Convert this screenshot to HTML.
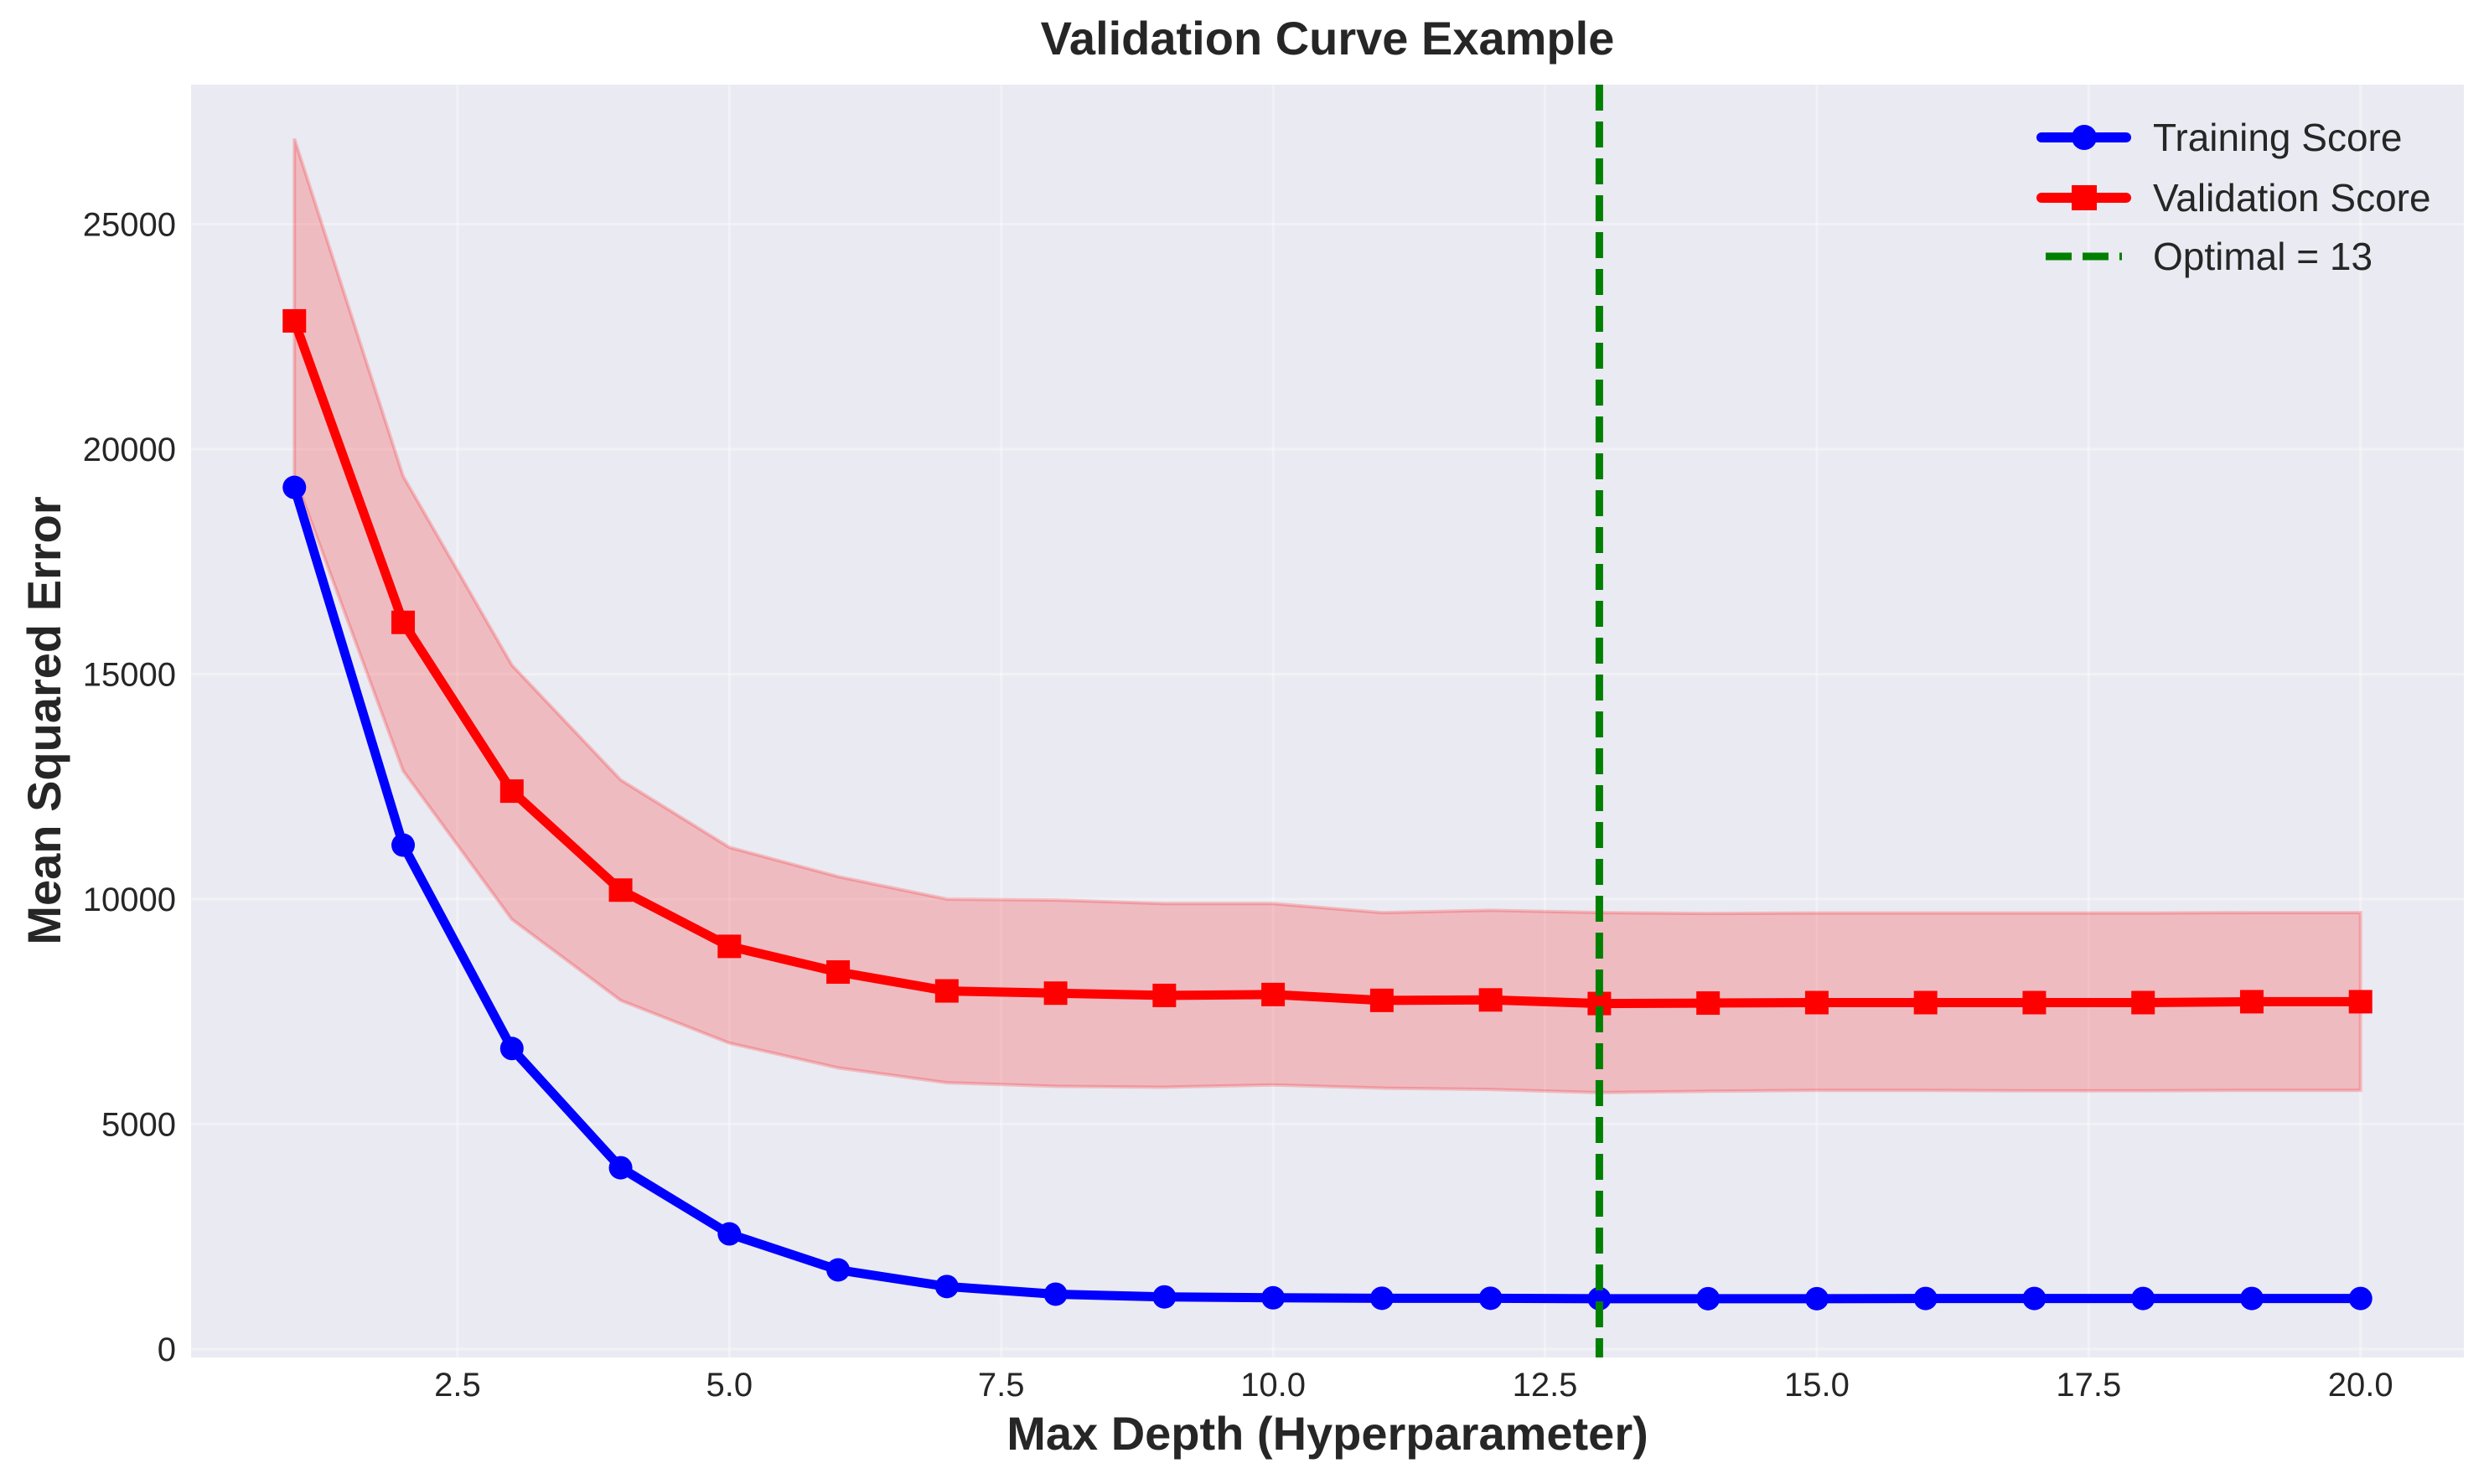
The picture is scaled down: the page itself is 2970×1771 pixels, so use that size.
<!DOCTYPE html>
<html><head><meta charset="utf-8">
<style>
html,body{margin:0;padding:0;background:#fff;}
svg{display:block;font-family:"Liberation Sans",Arial,sans-serif;}
</style></head>
<body>
<svg id="chart" width="2970" height="1771" viewBox="0 0 2970 1771" xmlns="http://www.w3.org/2000/svg">
<rect width="2970" height="1771" fill="#fff"/>
<rect x="228" y="101" width="2712" height="1519" fill="#eaeaf2"/>
<g id="grid"></g>
<g id="bands"></g>
<g id="series"></g>
<g id="ticks"></g>
<text x="1584" y="65" text-anchor="middle" font-size="56" font-weight="bold" fill="#262626">Validation Curve Example</text>
<text x="1584" y="1730" text-anchor="middle" font-size="56" font-weight="bold" fill="#262626">Max Depth (Hyperparameter)</text>
<text transform="translate(72,860) rotate(-90)" text-anchor="middle" font-size="56" font-weight="bold" fill="#262626">Mean Squared Error</text>
<g>
  <g>
    <line x1="2436" y1="164" x2="2537" y2="164" stroke="#0000ff" stroke-width="12" stroke-linecap="round"/>
    <circle cx="2487" cy="164" r="15" fill="#0000ff"/>
    <text x="2569" y="180" font-size="46" fill="#262626">Training Score</text>
  </g>
  <g>
    <line x1="2436" y1="236" x2="2537" y2="236" stroke="#ff0000" stroke-width="12" stroke-linecap="round"/>
    <rect x="2472" y="221" width="30" height="30" fill="#ff0000"/>
    <text x="2569" y="252" font-size="46" fill="#262626">Validation Score</text>
  </g>
  <g>
    <line x1="2441" y1="306" x2="2532" y2="306" stroke="#008000" stroke-width="9" stroke-dasharray="31,13"/>
    <text x="2569" y="322" font-size="46" fill="#262626">Optimal = 13</text>
  </g>
</g>
</svg>
<script>
const depths = [1,2,3,4,5,6,7,8,9,10,11,12,13,14,15,16,17,18,19,20];
const trainMean = [19150,11200,6680,4030,2560,1760,1390,1220,1160,1140,1130,1130,1120,1120,1120,1125,1125,1125,1125,1125];
const trainStd = [150,120,100,90,70,50,40,30,25,20,20,20,20,20,20,20,20,20,20,20];
const valMean = [22850,16150,12400,10200,8950,8380,7960,7910,7860,7880,7750,7760,7680,7690,7700,7700,7700,7700,7720,7720];
const valUpper = [26900,19400,15200,12650,11150,10500,10000,9980,9900,9900,9700,9750,9700,9680,9690,9690,9690,9690,9700,9700];
const valLower = [19400,12850,9550,7750,6800,6250,5920,5840,5820,5870,5800,5770,5700,5730,5750,5750,5740,5740,5750,5750];
const optimalDepth = 13;
const xTicks = [2.5,5.0,7.5,10.0,12.5,15.0,17.5,20.0];
const yTicks = [0,5000,10000,15000,20000,25000];

const NS = "http://www.w3.org/2000/svg";
const X0=228, X1=2940, Y0=1620, Y1=101;
const xMin=0.05, xMax=20.95, yMin=-186, yMax=28100;
function xs(v){return X0+(v-xMin)/(xMax-xMin)*(X1-X0);}
function ys(v){return Y0-(v-yMin)/(yMax-yMin)*(Y0-Y1);}
function mk(tag,attrs,parent){const e=document.createElementNS(NS,tag);for(const k in attrs)e.setAttribute(k,attrs[k]);parent.appendChild(e);return e;}

const grid=document.getElementById('grid');
const ticks=document.getElementById('ticks');
xTicks.forEach(t=>{
  const l=mk('line',{x1:xs(t),x2:xs(t),y1:Y1,y2:Y0,stroke:'#ffffff','stroke-width':3,'stroke-opacity':0.35},grid);
  
  
  const tx=mk('text',{x:xs(t),y:1666,'text-anchor':'middle','font-size':40,fill:'#262626'},ticks);
  tx.textContent=t.toFixed(1);
  
  
});
yTicks.forEach(t=>{
  const l=mk('line',{x1:X0,x2:X1,y1:ys(t),y2:ys(t),stroke:'#ffffff','stroke-width':3,'stroke-opacity':0.35},grid);
  
  
  const tx=mk('text',{x:210,y:ys(t)+14,'text-anchor':'end','font-size':40,fill:'#262626'},ticks);
  tx.textContent=String(t);
  
  
});

const bands=document.getElementById('bands');
function band(up,lo,color,name){
  let pts=depths.map((d,i)=>xs(d)+','+ys(up[i]));
  pts=pts.concat(depths.slice().reverse().map((d,j)=>{const i=depths.length-1-j;return xs(d)+','+ys(lo[i]);}));
  const p=mk('polygon',{points:pts.join(' '),fill:color,'fill-opacity':0.2,stroke:color,'stroke-opacity':0.2,'stroke-width':4},bands);
  
  
}
band(valUpper,valLower,'#ff0000','validation-std-band');
band(trainMean.map((m,i)=>m+trainStd[i]),trainMean.map((m,i)=>m-trainStd[i]),'#0000ff','training-std-band');

const series=document.getElementById('series');
const vl=mk('polyline',{points:depths.map((d,i)=>xs(d)+','+ys(valMean[i])).join(' '),fill:'none',stroke:'#ff0000','stroke-width':11,'stroke-linejoin':'round'},series);


depths.forEach((d,i)=>{
  const r=mk('rect',{x:xs(d)-14,y:ys(valMean[i])-14,width:28,height:28,fill:'#ff0000'},series);
  
  
});
const tl=mk('polyline',{points:depths.map((d,i)=>xs(d)+','+ys(trainMean[i])).join(' '),fill:'none',stroke:'#0000ff','stroke-width':11,'stroke-linejoin':'round'},series);


depths.forEach((d,i)=>{
  const c=mk('circle',{cx:xs(d),cy:ys(trainMean[i]),r:14,fill:'#0000ff'},series);
  
  
});
const ol=mk('line',{x1:xs(optimalDepth),x2:xs(optimalDepth),y1:Y1,y2:Y0,stroke:'#008000','stroke-width':9,'stroke-dasharray':'31,13'},series);


</script>
</body></html>
